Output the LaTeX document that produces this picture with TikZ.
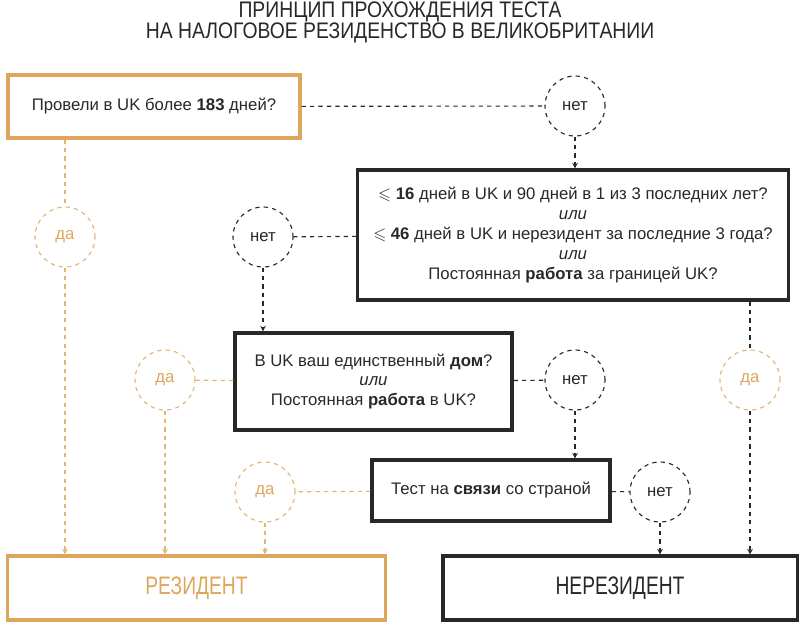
\documentclass[tikz,border=0pt]{standalone}
\usepackage{fontspec}
\usepackage{amssymb}
\setmainfont{Liberation Sans}
\newfontfamily\condfont[FakeStretch=0.76]{Liberation Sans}
\newfontfamily\titlefont[FakeStretch=0.86]{Liberation Sans}
\definecolor{resgold}{RGB}{222,166,92}
\definecolor{resgoldln}{RGB}{226,180,116}
\definecolor{darkln}{RGB}{40,40,40}
\usetikzlibrary{arrows.meta,positioning}

\begin{document}
\begin{tikzpicture}[x=0.025cm, y=-0.025cm,
      qbox/.style={draw=darkln, line width=2.2pt, text=darkln,
                   font=\fontsize{11.9}{14.2}\selectfont, align=center, inner sep=0pt},
      goldbox/.style={qbox, draw=resgold},
      endbox/.style={draw=darkln, line width=2.2pt, text=darkln,
                   font=\condfont\fontsize{18}{18}\selectfont,
                   minimum width=8.85cm, minimum height=1.6cm},
      ttl/.style={text=darkln, anchor=base, inner sep=0pt,
                  font=\titlefont\fontsize{16}{16}\selectfont},
      noc/.style={circle, draw=darkln, dashed, line width=0.8pt, text=darkln,
                  minimum size=1.5cm, inner sep=0pt,
                  font=\fontsize{11.9}{14.2}\selectfont},
      yesc/.style={noc, draw=resgoldln, text=resgold},
      nol/.style={darkln, dashed, line width=0.8pt},
      yesl/.style={resgoldln, dashed, line width=0.8pt},
      arr/.style={-{Stealth[length=4pt,width=4pt]}}
  ]
    \useasboundingbox (0,0) rectangle (800,625);
    \node[ttl] (ttl1) at (400,17) {ПРИНЦИП ПРОХОЖДЕНИЯ ТЕСТА};
    \node[ttl] (ttl2) at (400,38) {НА НАЛОГОВОЕ РЕЗИДЕНСТВО В ВЕЛИКОБРИТАНИИ};

    % questions
    \node[goldbox, minimum width=7.3cm, minimum height=1.575cm] (q183) at (154,106.5)
      {Провели в UK более \textbf{183} дней?};
    \node[qbox, minimum width=10.75cm, minimum height=3.25cm] (qdays) at (573,235)
      {$\leqslant$ \textbf{16} дней в UK и 90 дней в 1 из 3 последних лет?\\
       \textit{или}\\
       $\leqslant$ \textbf{46} дней в UK и нерезидент за последние 3 года?\\
       \textit{или}\\
       Постоянная \textbf{работа} за границей UK?};
    \node[qbox, minimum width=6.925cm, minimum height=2.425cm] (qhome) at (373.5,381.5)
      {В UK ваш единственный \textbf{дом}?\\
       \textit{или}\\
       Постоянная \textbf{работа} в UK?};
    \node[qbox, minimum width=5.95cm, minimum height=1.525cm] (qties) at (491,490.5)
      {Тест на \textbf{связи} со страной};

    % results
    \node[endbox, draw=resgold, text=resgold, minimum width=9.425cm] (res) at (196.5,588) {РЕЗИДЕНТ};
    \node[endbox] (nonres) at (620,588) {НЕРЕЗИДЕНТ};

    % answers
    \node[noc] (no1) at (575,106) {нет};
    \node[noc] (no2) at (263,237) {нет};
    \node[noc] (no3) at (575,380) {нет};
    \node[noc] (no4) at (660,492) {нет};
    \node[yesc] (yes1) at (65,237) {да};
    \node[yesc] (yes2) at (165,380) {да};
    \node[yesc] (yes3) at (265,492) {да};
    \node[yesc] (yes4) at (750,380) {да};

    % no branches
    \draw[nol] (q183) -- (no1);
    \draw[nol, arr] (no1) -- (qdays.north -| no1);
    \draw[nol] (qdays) -- (no2);
    \draw[nol, arr] (no2) -- (qhome.north -| no2);
    \draw[nol] (qhome) -- (no3);
    \draw[nol, arr] (no3) -- (qties.north -| no3);
    \draw[nol] (qties) -- (no4);
    \draw[nol, arr] (no4) -- (nonres.north -| no4);

    % yes branches
    \draw[yesl] (q183.south -| yes1) -- (yes1);
    \draw[yesl, arr] (yes1) -- (res.north -| yes1);
    \draw[yesl] (qhome) -- (yes2);
    \draw[yesl, arr] (yes2) -- (res.north -| yes2);
    \draw[yesl] (qties) -- (yes3);
    \draw[yesl, arr] (yes3) -- (res.north -| yes3);
    \draw[nol] (qdays.south -| yes4) -- (yes4);
    \draw[nol, arr] (yes4) -- (nonres.north -| yes4);
\end{tikzpicture}
\end{document}
